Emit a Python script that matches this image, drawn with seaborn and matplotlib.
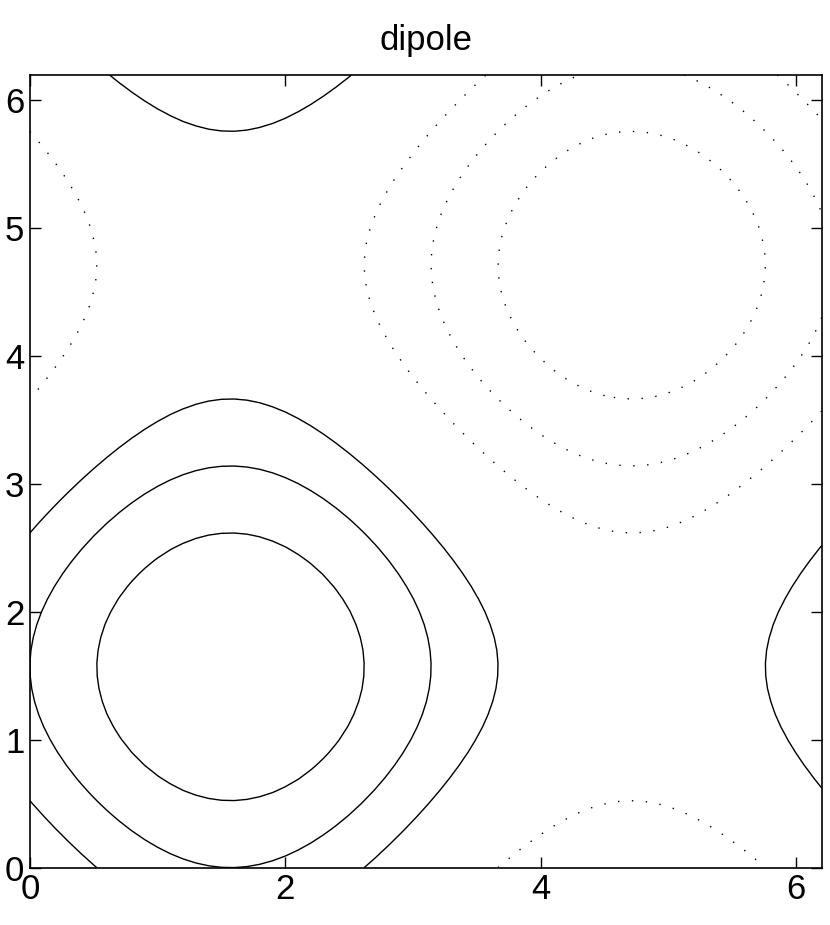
import numpy as np
import matplotlib
matplotlib.use("Agg")
import matplotlib.pyplot as plt
import seaborn as sns

# -----------------------------
# Data: dipole field on a grid 0:0.1:6.2
# -----------------------------
x_values = np.arange(0, 6.2001, 0.1)
y_values = np.arange(0, 6.2001, 0.1)
pos_levels = [0.5, 1.0, 1.5]
neg_levels = [-1.5, -1.0, -0.5]
x_ticks = [0, 2, 4, 6]
y_ticks = [0, 1, 2, 3, 4, 5, 6]
title = "dipole"

X, Y = np.meshgrid(x_values, y_values)
Z = np.sin(X) + np.sin(Y)

# -----------------------------
# Plot
# -----------------------------
sns.set_style("white")
plt.rcParams["font.family"] = ["Liberation Sans", "DejaVu Sans"]
plt.rcParams["text.color"] = "black"
plt.rcParams["xtick.color"] = "black"
plt.rcParams["ytick.color"] = "black"

fig = plt.figure(figsize=(8.3, 9.25), dpi=100)
ax = fig.add_axes([0.036, 0.062, 0.954, 0.857])

ax.contour(X, Y, Z, levels=pos_levels, colors="black", linewidths=1.0,
           linestyles="solid")
ax.contour(X, Y, Z, levels=neg_levels, colors="black", linewidths=1.0,
           linestyles=[(0, (1, 9))])

ax.set_xlim(0, 6.2)
ax.set_ylim(0, 6.2)
ax.set_xticks(x_ticks)
ax.set_yticks(y_ticks)
ax.tick_params(direction="in", length=8, width=1, labelsize=25,
               colors="black", top=True, right=True, bottom=True, left=True,
               pad=4)
for s in ax.spines.values():
    s.set_linewidth(1.2)
    s.set_color("black")
ax.set_title(title, fontsize=25, pad=18, color="black")

plt.savefig("out.png", dpi=100)
plt.close()
